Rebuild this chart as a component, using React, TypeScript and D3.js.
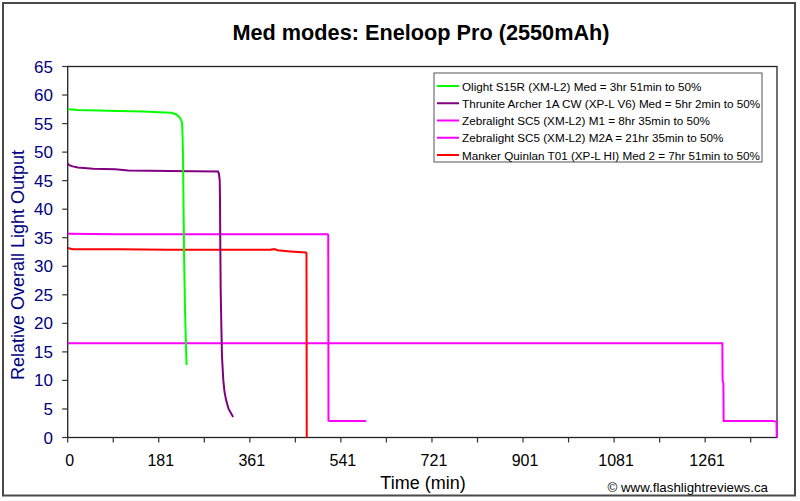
import React from "react";
import * as d3 from "d3";

const title = "Med modes: Eneloop Pro (2550mAh)";
const yTicks = [0, 5, 10, 15, 20, 25, 30, 35, 40, 45, 50, 55, 60, 65];
const xTickMinutes = [0, 90, 180, 270, 360, 450, 540, 630, 720, 810, 900, 990, 1080, 1170, 1260, 1350];
const xTickLabels = ["0", "", "181", "", "361", "", "541", "", "721", "", "901", "", "1081", "", "1261", ""];

const olight: [number, number][] = [
  [0, 57.5], [20, 57.4], [60, 57.3], [100, 57.2], [150, 57.1], [180, 57.0], [205, 56.9],
  [215, 56.6], [222, 56.0], [226, 55.2], [227, 53], [228, 49], [229, 40], [230, 32],
  [232, 22], [233.5, 17], [235, 12.7],
];
const thrunite: [number, number][] = [
  [0, 48.0], [3, 47.7], [10, 47.5], [20, 47.3], [50, 47.1], [94, 47.0], [120, 46.8],
  [200, 46.7], [297, 46.6], [299, 46.2], [300.5, 45], [301, 42], [301.5, 35], [302.4, 25.8],
  [303.6, 20], [305, 14.1], [307.6, 10], [310, 8], [313, 6.6], [318, 5], [327, 3.6],
];
const zebraM1: [number, number][] = [
  [0, 35.7], [100, 35.6], [300, 35.6], [514, 35.6], [515, 35.4], [515.5, 3.0], [517, 2.9], [590, 2.9],
];
const zebraM2A: [number, number][] = [
  [0, 16.5], [1294, 16.5], [1294.5, 10], [1296, 9.5], [1296.5, 2.9], [1393, 2.9], [1401, 2.8], [1401.5, 0],
];
const manker: [number, number][] = [
  [0, 33.2], [10, 33.0], [100, 33.0], [200, 32.9], [300, 32.9], [400, 32.9], [408, 33.0],
  [415, 32.8], [440, 32.6], [471, 32.4], [472, 32.3], [472.5, 0],
];

const seriesNames = [
  "Olight S15R (XM-L2) Med = 3hr 51min to 50%",
  "Thrunite Archer 1A CW (XP-L V6) Med = 5hr 2min to 50%",
  "Zebralight SC5 (XM-L2) M1 = 8hr 35min to 50%",
  "Zebralight SC5 (XM-L2) M2A = 21hr 35min to 50%",
  "Manker Quinlan T01 (XP-L HI) Med 2 = 7hr 51min to 50%",
];
const seriesColors = ["#00ff00", "#800080", "#ff00ff", "#ff00ff", "#ff0000"];
const seriesData = [olight, thrunite, zebraM1, zebraM2A, manker];

const FONT = "'Liberation Sans', Arial, sans-serif";

export default function App() {
  const left = 67.7, right = 777, top = 66.5, bottom = 437.5;
  const x = d3.scaleLinear().domain([0, 1402]).range([left, right]);
  const y = d3.scaleLinear().domain([0, 65]).range([bottom, top]);
  const line = d3.line<[number, number]>().x((d) => x(d[0])).y((d) => y(d[1]));
  const drawOrder = [3, 2, 4, 1, 0];

  return (
    <svg width={800} height={501} style={{ position: "absolute", left: 0, top: 0, background: "#fff" }}>
      <rect x={0} y={0} width={800} height={501} fill="#fff" />
      <rect x={3} y={3} width={792} height={492.5} fill="none" stroke="#4a4a4a" strokeWidth={2} />
      <text x={421} y={40} textAnchor="middle" fontFamily={FONT} fontWeight="bold" fontSize={21.7} fill="#000">
        {title}
      </text>

      {/* plot area border */}
      <rect x={left} y={top} width={right - left} height={bottom - top} fill="none" stroke="#222" strokeWidth={1.3} />

      {/* y axis */}
      {yTicks.map((t) => (
        <g key={"y" + t}>
          <line x1={left - 5.5} x2={left} y1={y(t)} y2={y(t)} stroke="#333" strokeWidth={1.2} />
          <text x={53} y={y(t) + 6} textAnchor="end" fontFamily={FONT} fontSize={17} fill="#000080">
            {t}
          </text>
        </g>
      ))}
      <text
        transform={`translate(24, 265) rotate(-90)`}
        textAnchor="middle"
        fontFamily={FONT}
        fontSize={18}
        fill="#000080"
      >
        Relative Overall Light Output
      </text>

      {/* x axis */}
      {xTickMinutes.map((t, i) => (
        <g key={"x" + t}>
          <line x1={x(t)} x2={x(t)} y1={bottom} y2={bottom + 5} stroke="#333" strokeWidth={1.2} />
          {xTickLabels[i] && (
            <text x={x(t) + 2} y={466} textAnchor="middle" fontFamily={FONT} fontSize={16} fill="#000">
              {xTickLabels[i]}
            </text>
          )}
        </g>
      ))}
      <text x={423} y={489} textAnchor="middle" fontFamily={FONT} fontSize={18} fill="#000">
        Time (min)
      </text>
      <text x={768} y={492} textAnchor="end" fontFamily={FONT} fontSize={13.3} fill="#000">
        © www.flashlightreviews.ca
      </text>

      {/* series */}
      {drawOrder.map((i) => (
        <path key={"s" + i} d={line(seriesData[i]) || ""} fill="none" stroke={seriesColors[i]} strokeWidth={2} />
      ))}

      {/* legend */}
      <rect x={434} y={73} width={328} height={89} fill="#fff" stroke="#555" strokeWidth={1} />
      {seriesNames.map((n, i) => {
        const ly = 86 + i * 17.25;
        return (
          <g key={"l" + i}>
            <line x1={437} x2={459} y1={ly} y2={ly} stroke={seriesColors[i]} strokeWidth={2} />
            <text x={462} y={ly + 4.5} fontFamily={FONT} fontSize={11.7} fill="#000">
              {n}
            </text>
          </g>
        );
      })}
    </svg>
  );
}
